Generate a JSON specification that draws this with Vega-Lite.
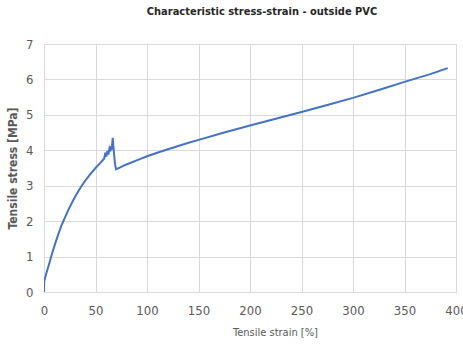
{
  "$schema": "https://vega.github.io/schema/vega-lite/v6.json",
  "autosize": "none",
  "width": 412,
  "height": 248,
  "padding": {"left": 44, "top": 44, "right": 7, "bottom": 64},
  "background": "white",
  "title": {
    "text": "Characteristic stress-strain - outside PVC",
    "font": "Liberation Sans Narrow, DejaVu Sans Condensed, sans-serif",
    "fontSize": 11,
    "fontWeight": "bold",
    "color": "#262626",
    "anchor": "middle",
    "dx": 12,
    "offset": 21
  },
  "config": {
    "view": {"stroke": null},
    "axis": {
      "labelFont": "Liberation Sans Narrow, DejaVu Sans Condensed, sans-serif",
      "titleFont": "Liberation Sans Narrow, DejaVu Sans Condensed, sans-serif",
      "labelColor": "#595959",
      "titleColor": "#595959",
      "gridColor": "#d9d9d9",
      "domainColor": "#d9d9d9",
      "ticks": false
    }
  },
  "data": {
    "values": [
      {"strain": 0, "stress": 0},
      {"strain": 0.2, "stress": 0.3},
      {"strain": 2, "stress": 0.5},
      {"strain": 5, "stress": 0.8},
      {"strain": 8, "stress": 1.1},
      {"strain": 11, "stress": 1.38},
      {"strain": 14, "stress": 1.64},
      {"strain": 17, "stress": 1.88},
      {"strain": 20, "stress": 2.08},
      {"strain": 24, "stress": 2.34},
      {"strain": 28, "stress": 2.57},
      {"strain": 32, "stress": 2.78},
      {"strain": 36, "stress": 2.97},
      {"strain": 40, "stress": 3.14},
      {"strain": 45, "stress": 3.33},
      {"strain": 50, "stress": 3.5},
      {"strain": 55, "stress": 3.65},
      {"strain": 58.5, "stress": 3.77},
      {"strain": 59.5, "stress": 3.93},
      {"strain": 60.5, "stress": 3.82},
      {"strain": 61.5, "stress": 3.98},
      {"strain": 62.5, "stress": 3.88},
      {"strain": 63.5, "stress": 4.05},
      {"strain": 64.5, "stress": 3.97},
      {"strain": 65.3, "stress": 4.12},
      {"strain": 65.8, "stress": 4.02},
      {"strain": 66.7, "stress": 4.35},
      {"strain": 68, "stress": 3.9},
      {"strain": 69, "stress": 3.6},
      {"strain": 70, "stress": 3.46},
      {"strain": 75, "stress": 3.53},
      {"strain": 80, "stress": 3.6},
      {"strain": 93, "stress": 3.75},
      {"strain": 100, "stress": 3.83},
      {"strain": 112, "stress": 3.95},
      {"strain": 125, "stress": 4.07},
      {"strain": 138, "stress": 4.19},
      {"strain": 151, "stress": 4.3},
      {"strain": 175, "stress": 4.5},
      {"strain": 200, "stress": 4.7},
      {"strain": 225, "stress": 4.89},
      {"strain": 250, "stress": 5.08},
      {"strain": 275, "stress": 5.28},
      {"strain": 300, "stress": 5.48},
      {"strain": 325, "stress": 5.7},
      {"strain": 350, "stress": 5.93},
      {"strain": 375, "stress": 6.15},
      {"strain": 392, "stress": 6.32}
    ]
  },
  "mark": {"type": "line", "color": "#4472C4", "strokeWidth": 2, "clip": true},
  "encoding": {
    "x": {
      "field": "strain",
      "type": "quantitative",
      "scale": {"domain": [0, 400], "nice": false, "zero": false},
      "axis": {
        "values": [0, 50, 100, 150, 200, 250, 300, 350, 400],
        "title": "Tensile strain [%]",
        "titleFontSize": 11,
        "titleFontWeight": "normal",
        "titleX": 231,
        "titlePadding": 9,
        "labelFontSize": 13,
        "labelPadding": 12,
        "labelFlush": false,
        "labelOverlap": false
      }
    },
    "y": {
      "field": "stress",
      "type": "quantitative",
      "scale": {"domain": [0, 7], "nice": false},
      "axis": {
        "values": [0, 1, 2, 3, 4, 5, 6, 7],
        "title": "Tensile stress [MPa]",
        "titleFontSize": 12,
        "titleFontWeight": "bold",
        "titlePadding": 6,
        "labelFontSize": 13,
        "labelPadding": 11,
        "domain": false
      }
    }
  }
}
